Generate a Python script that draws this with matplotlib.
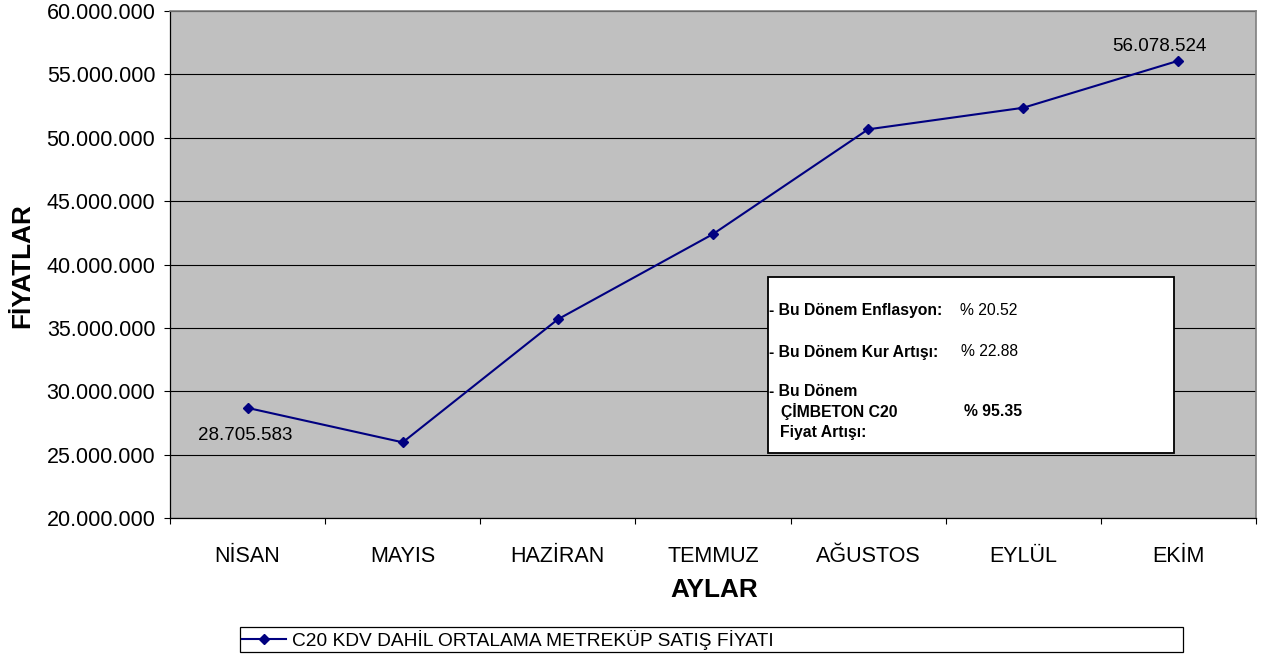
import numpy as np
import matplotlib
matplotlib.use("Agg")
import matplotlib.pyplot as plt
from matplotlib.ticker import FuncFormatter
from matplotlib.patches import Rectangle

plt.rcParams['font.family'] = ['Liberation Sans', 'DejaVu Sans']

months = ["NİSAN", "MAYIS", "HAZİRAN", "TEMMUZ", "AĞUSTOS", "EYLÜL", "EKİM"]
prices = [28705583, 25990000, 35690000, 42410000, 50670000, 52370000, 56078524]
series_name = "C20 KDV DAHİL ORTALAMA METREKÜP SATIŞ FİYATI"
y_ticks = [20e6, 25e6, 30e6, 35e6, 40e6, 45e6, 50e6, 55e6, 60e6]
box_labels = ["- Bu Dönem Enflasyon:", "- Bu Dönem Kur Artışı:"]
box_values = ["% 20.52", "% 22.88"]
cimbeton_lines = ["- Bu Dönem", "ÇİMBETON C20", "Fiyat Artışı:"]
cimbeton_value = "% 95.35"

W, H = 1264, 657


def fx(px):
   return px / W


def fy(py):
   return 1 - py / H


def tr_fmt(v, pos=None):
   return f"{v:,.0f}".replace(",", ".")


fig = plt.figure(figsize=(W / 100, H / 100), dpi=100)
ax = fig.add_axes([fx(170), fy(518.3), (1256 - 170) / W, (518.3 - 11) / H])
ax.set_facecolor("#C0C0C0")

x = np.arange(len(months))
line, = ax.plot(x, prices, color="#000080", lw=1.5, marker="D", ms=5,
                markerfacecolor="#000080", markeredgecolor="#000080")

ax.set_xlim(-0.5, len(months) - 0.5)
ax.set_ylim(y_ticks[0], y_ticks[-1])
ax.set_yticks(y_ticks)
ax.yaxis.set_major_formatter(FuncFormatter(tr_fmt))
ax.set_xticks(x)
ax.set_xticklabels(months)
ax.set_xticks(np.arange(-0.5, len(months), 1), minor=True)
ax.tick_params(axis="x", which="major", length=0, pad=20, labelsize=15.5)
ax.tick_params(axis="x", which="minor", length=4.5, width=0.8, direction="out")
ax.tick_params(axis="y", length=4.5, width=0.8, pad=6, labelsize=15.5)
ax.grid(axis="y", color="black", lw=0.8)
ax.set_axisbelow(True)

for side in ["top", "right"]:
   ax.spines[side].set_color("#808080")
   ax.spines[side].set_linewidth(1.2)
for side in ["left", "bottom"]:
   ax.spines[side].set_color("black")
   ax.spines[side].set_linewidth(0.9)

# value labels on first and last points
ax.annotate(tr_fmt(prices[0]), (x[0], prices[0]), xytext=(-2, -20),
            textcoords="offset points", ha="center", va="center", fontsize=13.5)
ax.annotate(tr_fmt(prices[-1]), (x[-1], prices[-1]), xytext=(-14, 10.5),
            textcoords="offset points", ha="center", va="center", fontsize=13.5)

fig.text(fx(22), fy(266), "FİYATLAR", rotation=90, ha="center", va="center",
         fontsize=18.8, fontweight="bold")
fig.text(fx(714), fy(590), "AYLAR", ha="center", va="center",
         fontsize=18.8, fontweight="bold")

# info box
fig.patches.append(Rectangle((fx(768.3), fy(452.7)), (1174.3 - 768.3) / W,
                             (452.7 - 277.3) / H, transform=fig.transFigure,
                             facecolor="white", edgecolor="black", lw=1.3,
                             zorder=3))
for lab, val, yy, vx in zip(box_labels, box_values, [311, 352], [960, 961]):
   fig.text(fx(769), fy(yy), lab, ha="left", va="center", fontsize=11.3,
            fontweight="bold", zorder=4)
   fig.text(fx(vx), fy(yy), val, ha="left", va="center", fontsize=11.3, zorder=4)
for txt, yy, tx in zip(cimbeton_lines, [391, 412, 432], [769, 781, 780]):
   fig.text(fx(tx), fy(yy), txt, ha="left", va="center", fontsize=11.3,
            fontweight="bold", zorder=4)
fig.text(fx(964), fy(412), cimbeton_value, ha="left", va="center", fontsize=11.3,
         fontweight="bold", zorder=4)

leg = fig.legend([line], [series_name], loc="lower left",
                 bbox_to_anchor=(fx(240), fy(652), (1183 - 240) / W, 26 / H),
                 mode="expand", borderaxespad=0, fancybox=False,
                 edgecolor="black", framealpha=1, fontsize=13.75,
                 handlelength=2.3, handletextpad=0.3, borderpad=0.12)
leg.get_frame().set_linewidth(0.9)

fig.savefig("out.png", dpi=100)
